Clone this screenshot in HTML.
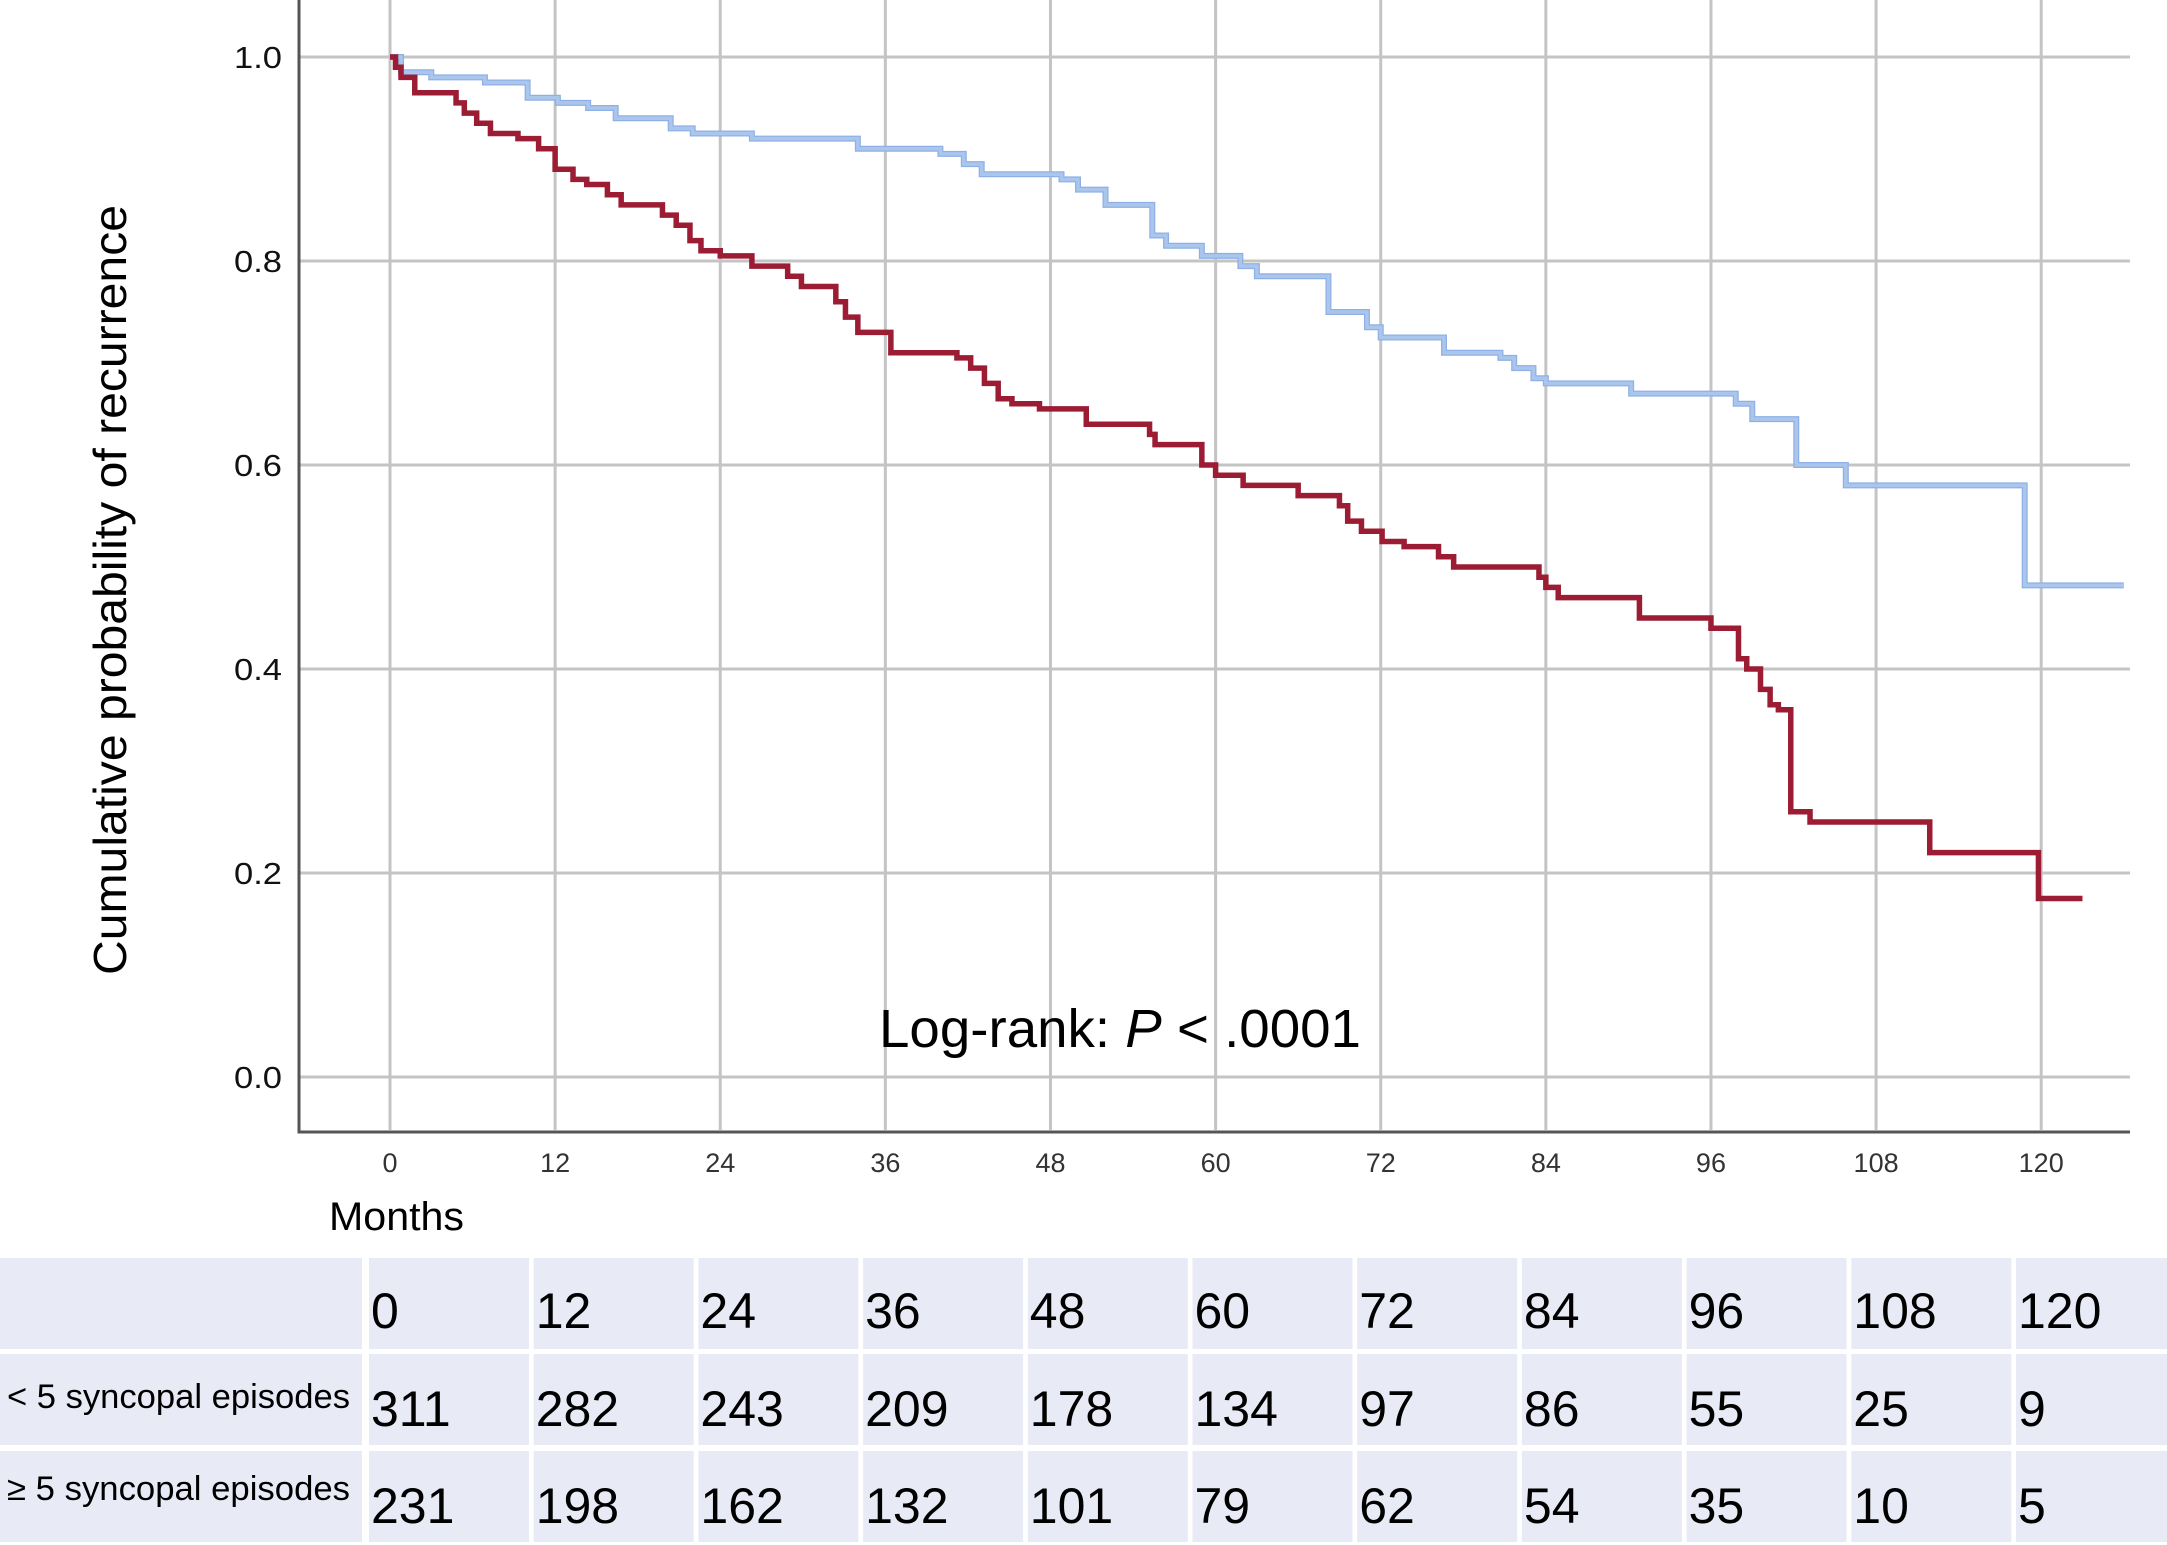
<!DOCTYPE html>
<html><head><meta charset="utf-8"><style>
body{margin:0;background:#fff;width:2167px;height:1545px;overflow:hidden;font-family:"Liberation Sans",sans-serif}
svg{position:absolute;left:0;top:0}
</style></head><body>
<svg width="2167" height="1545" xmlns="http://www.w3.org/2000/svg">
<g id="grid"></g>
<g id="curves"></g>
<text x="879" y="1047" font-size="54" fill="#000" textLength="482" lengthAdjust="spacingAndGlyphs">Log-rank: <tspan font-style="italic">P</tspan> &lt; .0001</text>
<text transform="translate(126,590) rotate(-90)" text-anchor="middle" font-size="46" fill="#000" textLength="770" lengthAdjust="spacingAndGlyphs">Cumulative probability of recurrence</text>
<text x="329" y="1230" font-size="40" fill="#000" textLength="135" lengthAdjust="spacingAndGlyphs">Months</text>
<g id="table"></g>
</svg>
<script>
const xTicks=[0,12,24,36,48,60,72,84,96,108,120];
const yTicks=[0,0.2,0.4,0.6,0.8,1.0];
const blueT=[0,0.8,3,6.9,10,12.2,14.4,16.4,20.4,22,26.3,34,40,41.7,43,48.8,50,52,55.4,56.4,59,61.8,63,68.2,71,72,76.6,80.7,81.7,83.1,84,90.2,97.8,99,102.2,105.8,118.8];
const blueS=[1.0,0.985,0.98,0.975,0.96,0.955,0.95,0.94,0.93,0.925,0.92,0.91,0.905,0.895,0.885,0.88,0.87,0.855,0.825,0.815,0.805,0.795,0.785,0.75,0.735,0.725,0.71,0.705,0.695,0.685,0.68,0.67,0.66,0.645,0.6,0.58,0.482];
const blueEnd=126;
const redT=[0,0.4,0.8,1.8,4.8,5.4,6.3,7.3,9.3,10.8,12,13.3,14.3,15.8,16.8,19.8,20.8,21.8,22.6,24,26.3,28.9,29.9,32.4,33.1,34,36.4,41.2,42.2,43.2,44.2,45.2,47.2,50.6,55.2,55.6,59,60,62,66,69,69.6,70.6,72.1,73.7,76.2,77.3,83.5,84,84.9,90.8,96,98,98.6,99.6,100.3,100.9,101.8,103.2,111.9,119.8];
const redS=[1.0,0.99,0.98,0.965,0.955,0.945,0.935,0.925,0.92,0.91,0.89,0.88,0.875,0.865,0.855,0.845,0.835,0.82,0.81,0.805,0.795,0.785,0.775,0.76,0.745,0.73,0.71,0.705,0.695,0.68,0.665,0.66,0.655,0.64,0.63,0.62,0.6,0.59,0.58,0.57,0.56,0.545,0.535,0.525,0.52,0.51,0.5,0.49,0.48,0.47,0.45,0.44,0.41,0.4,0.38,0.365,0.36,0.26,0.25,0.22,0.175];
const redEnd=123;
const tableCols=["0","12","24","36","48","60","72","84","96","108","120"];
const rowLabels=["< 5 syncopal episodes","\u2265 5 syncopal episodes"];
const riskLow=[311,282,243,209,178,134,97,86,55,25,9];
const riskHigh=[231,198,162,132,101,79,62,54,35,10,5];

const NS="http://www.w3.org/2000/svg";
const X=t=>390+t*13.76;
const Y=v=>1077-v*1020;
function mk(tag,attrs,parent){const e=document.createElementNS(NS,tag);for(const k in attrs)e.setAttribute(k,attrs[k]);parent.appendChild(e);return e;}
const grid=document.getElementById('grid');
xTicks.forEach(t=>{
  const l=mk('line',{x1:X(t),x2:X(t),y1:0,y2:1130,stroke:'#c4c4c4','stroke-width':3},grid);
  
  
  const tx=mk('text',{x:X(t),y:1172,'text-anchor':'middle','font-size':27,fill:'#333'},grid);
  tx.textContent=t;
  
  
});
yTicks.forEach(v=>{
  const l=mk('line',{x1:298,x2:2130,y1:Y(v),y2:Y(v),stroke:'#c4c4c4','stroke-width':3},grid);
  
  
  const tx=mk('text',{x:282,y:Y(v)+11,'text-anchor':'end','font-size':31,fill:'#111',textLength:48,lengthAdjust:'spacingAndGlyphs'},grid);
  tx.textContent=v.toFixed(1);
  
  
});
const ax=mk('path',{d:'M299 0 V1132 H2130',fill:'none',stroke:'#555','stroke-width':3},grid);


function stepPath(T,S,end){let d='M'+X(T[0])+' '+Y(S[0]);for(let i=1;i<T.length;i++){d+=' H'+X(T[i])+' V'+Y(S[i]);}d+=' H'+X(end);return d;}
const cv=document.getElementById('curves');
const bO=mk('path',{d:stepPath(blueT,blueS,blueEnd),fill:'none',stroke:'#8fb0e6','stroke-width':6},cv);


const bI=mk('path',{d:stepPath(blueT,blueS,blueEnd),fill:'none',stroke:'#aac6ec','stroke-width':3.5},cv);


const r=mk('path',{d:stepPath(redT,redS,redEnd),fill:'none',stroke:'#9c1c34','stroke-width':5.5},cv);


const tb=document.getElementById('table');
const rowsY=[1258,1354,1451],rowH=91;
rowsY.forEach((y,ri)=>{
  const lc=mk('rect',{x:0,y:y,width:362,height:rowH,fill:'#e8eaf5'},tb);
  
  
  if(ri>0){const lt=mk('text',{x:7,y:y+(ri===1?54:49),'font-size':34,fill:'#000',textLength:343,lengthAdjust:'spacingAndGlyphs'},tb);lt.textContent=rowLabels[ri-1];
    
    }
  tableCols.forEach((c,ci)=>{
    const cx=369+ci*164.7;
    const cell=mk('rect',{x:cx,y:y,width:160,height:rowH,fill:'#e8eaf5'},tb);
    
    
    const t=mk('text',{x:cx+2,y:y+(ri===0?70:72),'font-size':50,fill:'#000'},tb);
    t.textContent=ri===0?c:(ri===1?riskLow[ci]:riskHigh[ci]);
    
    
  });
});
</script>
</body></html>
